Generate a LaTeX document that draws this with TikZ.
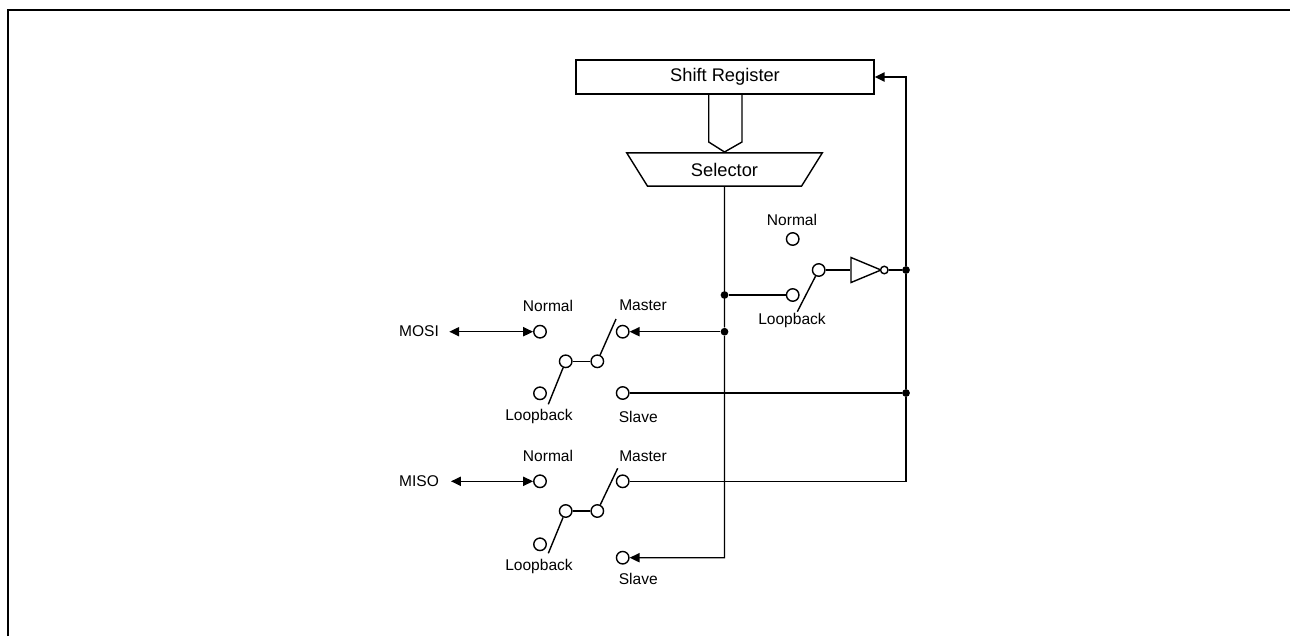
\documentclass[tikz,border=0pt]{standalone}
\usepackage{fontspec}
\setmainfont{Liberation Sans}
\usetikzlibrary{arrows.meta, shapes.geometric}

\tikzset{
	wire/.style={line width=0.8pt, draw=black},
	tip/.style={-{Triangle[length=5.6pt,width=5.2pt]}},
	bothtips/.style={{Triangle[length=5.6pt,width=5.2pt]}-{Triangle[length=5.6pt,width=5.2pt]}},
	contact/.style={circle, draw=black, line width=0.8pt, fill=white, inner sep=0pt, minimum size=0.25cm},
	joint/.style={circle, fill=black, inner sep=0pt, minimum size=0.155cm},
	biglabel/.style={font=\fontsize{10.4}{12}\selectfont},
	smalllabel/.style={font=\fontsize{8.85}{10}\selectfont},
}

\begin{document}
\begin{tikzpicture}[x=0.02cm, y=-0.02cm]
	\useasboundingbox (0,0) rectangle (1290,636);
	
	% Outer frame
	\draw[line width=1.15pt] (8,636) -- (8,10) -- (1290,10);
	
	% Shift Register
	\node[wire, draw, rectangle, inner sep=0pt, minimum width=5.96cm, minimum height=0.68cm, biglabel] (register) at (725,77) {Shift Register};
	
	% Selector
	\node[wire, draw, trapezium, shape border rotate=180, trapezium left angle=56, trapezium right angle=56, trapezium stretches=true, inner sep=0pt, minimum width=3.92cm, minimum height=0.667cm, biglabel] (selector) at (724.5,169.5) {Selector};
	
	% Bus between register and selector
	\draw[wire, line join=miter] (708.7,94) -- (708.7,142) -- (724.5,152) -- (742,142) -- (742,94);
	
	% Joints on the two vertical wires
	\node[joint] (jloop) at (724.5,295) {};
	\node[joint] (jmosi) at (724.5,331.7) {};
	\node[joint] (jinv) at (906,270) {};
	\node[joint] (jslave) at (906,393) {};
	\coordinate (cornerbottom) at (724.5,557.7);
	\coordinate (cornerright) at (906,481.3);
	\coordinate (cornertop) at (906,77);
	
	% Loopback switch and inverter
	\node[smalllabel] (lnormal) at (792,220) {Normal};
	\node[contact] (cnormal) at (792.7,239) {};
	\node[contact] (cswitch) at (818.7,270) {};
	\node[contact] (cloop) at (792.7,295) {};
	\node[smalllabel] (lloop) at (792,320.7) {Loopback};
	\coordinate (bladeloop) at (797.3,311.7);
	\node[wire, draw, isosceles triangle, isosceles triangle stretches=true, inner sep=0pt, minimum width=0.5cm, minimum height=0.6cm, anchor=lower side] (inverter) at (850.3,270) {};
	\node[contact, minimum size=0.15cm] (bubble) at (884.3,270) {};
	\draw[wire] (cswitch) -- (bladeloop);
	\draw[wire] (cswitch) -- (inverter.lower side);
	\draw[wire] (bubble) -- (jinv);
	\draw[wire] (jloop) -- (cloop);
	
	% MOSI
	\node[smalllabel] (lmosi) at (419,331.5) {MOSI};
	\coordinate (mosiend) at (449.3,331.7);
	\node[smalllabel] (lmosinormal) at (548,305.7) {Normal};
	\node[smalllabel] (lmosimaster) at (643,305.7) {Master};
	\node[contact] (cmosinormal) at (540,331.7) {};
	\node[contact] (cmosimaster) at (622.7,331.7) {};
	\node[contact] (cmosileft) at (565.7,361.3) {};
	\node[contact] (cmosiright) at (597.3,361.3) {};
	\node[contact] (cmosiloop) at (540,393.3) {};
	\node[contact] (cmosislave) at (622.7,393) {};
	\node[smalllabel] (lmosiloop) at (539,416.7) {Loopback};
	\node[smalllabel] (lmosislave) at (638.3,416.7) {Slave};
	\coordinate (blademosiup) at (616,319);
	\coordinate (blademosidown) at (548.3,404.3);
	\draw[wire, bothtips] (mosiend) -- (cmosinormal);
	\draw[wire] (cmosileft) -- (cmosiright);
	\draw[wire] (cmosiright) -- (blademosiup);
	\draw[wire] (cmosileft) -- (blademosidown);
	\draw[wire, tip] (jmosi) -- (cmosimaster);
	\draw[wire] (cmosislave) -- (jslave);
	
	% MISO
	\node[smalllabel] (lmiso) at (419,480.7) {MISO};
	\coordinate (misoend) at (451,481.3);
	\node[smalllabel] (lmisonormal) at (548,456.3) {Normal};
	\node[smalllabel] (lmisomaster) at (643,456.3) {Master};
	\node[contact] (cmisonormal) at (540,481.3) {};
	\node[contact] (cmisomaster) at (622.7,481.3) {};
	\node[contact] (cmisoleft) at (565.7,511) {};
	\node[contact] (cmisoright) at (597.3,511) {};
	\node[contact] (cmisoloop) at (540,544.3) {};
	\node[contact] (cmisoslave) at (622.7,557.7) {};
	\node[smalllabel] (lmisoloop) at (539,566.7) {Loopback};
	\node[smalllabel] (lmisoslave) at (638.3,579.3) {Slave};
	\coordinate (blademisoup) at (617.7,468.3);
	\coordinate (blademisodown) at (548.3,553.3);
	\draw[wire, bothtips] (misoend) -- (cmisonormal);
	\draw[wire] (cmisoleft) -- (cmisoright);
	\draw[wire] (cmisoright) -- (blademisoup);
	\draw[wire] (cmisoleft) -- (blademisodown);
	
	% Long wires
	\draw[wire, tip] (selector.south) -- (jloop) -- (jmosi) -- (cornerbottom) -- (cmisoslave);
	\draw[wire, tip] (cmisomaster) -- (cornerright) -- (jslave) -- (jinv) -- (cornertop) -- (register);
	
\end{tikzpicture}
\end{document}
